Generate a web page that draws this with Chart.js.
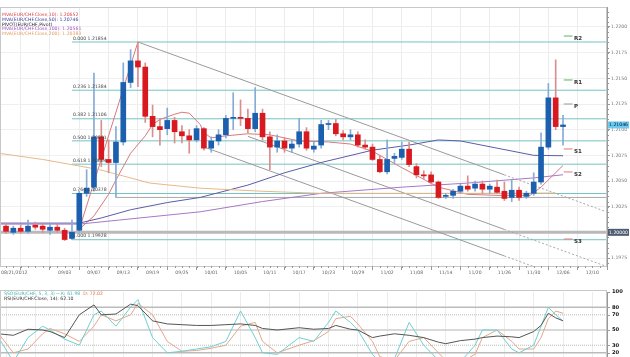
<!DOCTYPE html>
<html><head><meta charset="utf-8">
<script src="https://cdn.jsdelivr.net/npm/chart.js@4/dist/chart.umd.min.js"></script>
<style>
html,body{margin:0;padding:0;background:#fff;width:630px;height:357px;overflow:hidden}
#c1{position:absolute;left:0;top:0}
#c2{position:absolute;left:0;top:285px}
</style></head><body>
<canvas id="c1" width="630" height="285"></canvas>
<canvas id="c2" width="630" height="90"></canvas>
<script>
// ---------- data ----------
const dateTicks = ['08/21/2012','','09/03','09/07','09/13','09/19','09/25','10/01','10/05','10/11','10/17','10/23','10/29','11/02','11/08','11/14','11/20','11/26','11/30','12/06','12/10'];
const open  = [1.2006,1.2000,1.2004,1.2001,1.2007,1.2006,1.2002,1.2005,1.2002,1.1994,1.2002,1.2038,1.2044,1.2093,1.2071,1.2068,1.2088,1.2146,1.2167,1.2161,1.2113,1.2103,1.2101,1.2109,1.2098,1.2094,1.2090,1.2101,1.2082,1.2089,1.2095,1.2111,1.2112,1.2111,1.2101,1.2116,1.2093,1.2083,1.2089,1.2082,1.2086,1.2098,1.2081,1.2085,1.2105,1.2106,1.2096,1.2093,1.2095,1.2085,1.2083,1.2071,1.2059,1.2072,1.2073,1.2081,1.2064,1.2056,1.2056,1.2049,1.2035,1.2036,1.2040,1.2045,1.2043,1.2047,1.2042,1.2044,1.2040,1.2034,1.2041,1.2035,1.2038,1.2049,1.2083,1.2131,1.2103];
const high  = [1.2009,1.2006,1.2007,1.2012,1.2010,1.2009,1.2008,1.2008,1.2004,1.2012,1.2040,1.2061,1.2155,1.2109,1.2090,1.2103,1.2165,1.2178,1.21854,1.2165,1.2124,1.2111,1.2121,1.2112,1.2104,1.2100,1.2104,1.2102,1.2093,1.2100,1.2114,1.2136,1.2129,1.2120,1.2141,1.2120,1.2098,1.2095,1.2092,1.2090,1.2111,1.2102,1.2088,1.2109,1.2109,1.2110,1.2099,1.2100,1.2098,1.2090,1.2086,1.2075,1.2090,1.2077,1.2088,1.2088,1.2067,1.2060,1.2059,1.2050,1.2038,1.2042,1.2047,1.2055,1.2050,1.2050,1.2047,1.2051,1.2049,1.2051,1.2044,1.2040,1.2058,1.2097,1.2145,1.2168,1.2114];
const low   = [1.1999,1.1998,1.1999,1.1999,1.2003,1.2000,1.1998,1.2000,1.1992,1.19928,1.2000,1.2035,1.2040,1.2064,1.2058,1.2034,1.2085,1.2141,1.2142,1.2107,1.2093,1.2085,1.2095,1.2087,1.2087,1.2077,1.2088,1.2080,1.2078,1.2085,1.2092,1.2100,1.2104,1.2097,1.2098,1.2090,1.2061,1.2078,1.2078,1.2078,1.2083,1.2080,1.2078,1.2082,1.2100,1.2094,1.2090,1.2090,1.2083,1.2081,1.2070,1.2058,1.2057,1.2068,1.2071,1.2064,1.2053,1.2052,1.2047,1.2033,1.2033,1.2033,1.2038,1.2040,1.2040,1.2038,1.2038,1.2038,1.2031,1.2030,1.2031,1.2033,1.2036,1.2047,1.2081,1.2100,1.2085];
const close = [1.2001,1.2004,1.2001,1.2006,1.2005,1.2003,1.2005,1.2002,1.1993,1.2000,1.2038,1.2043,1.2093,1.2071,1.2068,1.2088,1.2146,1.2167,1.2161,1.2113,1.2103,1.2100,1.2109,1.2098,1.2094,1.2090,1.2101,1.2082,1.2089,1.2095,1.2111,1.2112,1.2111,1.2101,1.2116,1.2093,1.2083,1.2089,1.2082,1.2086,1.2098,1.2082,1.2084,1.2105,1.2106,1.2096,1.2093,1.2095,1.2085,1.2083,1.2071,1.2059,1.2071,1.2074,1.2081,1.2066,1.2056,1.2055,1.2049,1.2034,1.2036,1.2040,1.2045,1.2042,1.2047,1.2042,1.2045,1.2039,1.2033,1.2041,1.2034,1.2038,1.2049,1.2083,1.2131,1.2103,1.21046];

// moving averages read at sample candles
const ma10Idx  = [10,12,14,15,17,19,20,21,23,24,25,26.5,27,28,30,33,36,40,44,47,50,54,59,63,67,71.5,73,76];
const ma10Val  = [1.2003,1.2016,1.2037,1.2051,1.2077,1.2094,1.2105,1.2110,1.2115,1.2117,1.2116,1.2105,1.2097,1.2092,1.2094,1.2096,1.2095,1.2089,1.2088,1.2086,1.2079,1.2063,1.2044,1.2037,1.2036,1.2036,1.2044,1.20652];
const ma50Idx  = [-1,10,13,17,22,26.5,33,38,43,50,55,59,62,67,72,76];
const ma50Val  = [1.2009,1.2009,1.2014,1.2022,1.2029,1.2034,1.2046,1.2058,1.2068,1.2080,1.2085,1.2090,1.2089,1.2082,1.2075,1.20746];
const ma100Idx = [-1,10,15.5,26.5,35,43,54,63,72,76];
const ma100Val = [1.2008,1.2008,1.2012,1.2020,1.2030,1.2038,1.2044,1.2048,1.2053,1.20561];
const ma200Idx = [-1,5,12.8,19.6,26.5,35,43,55,65,75];
const ma200Val = [1.2077,1.2071,1.2061,1.2048,1.2043,1.2040,1.2038,1.2038,1.2038,1.20383];

const fibRatio = ['0.000','0.236','0.382','0.500','0.618','0.764','1.000'];
const fibValue = [1.21854,1.21384,1.21106,1.20891,1.20664,1.20378,1.19928];
const pivotName  = ['R2','R1','P','S1','S2','S3'];
const pivotValue = [1.21912,1.21484,1.21250,1.20812,1.20588,1.19935];
const yTicks = [1.1975,1.2000,1.2025,1.2050,1.2075,1.2100,1.2125,1.2150,1.2175,1.2200];

// trend channel end points [k, value]
const chanUpper = [[18,1.21854],[68,1.20560],[82,1.20198]];
const chanMid   = [[33,1.20935],[68,1.20028],[82,1.19666]];
const chanLower = [[27.4,1.20821],[68,1.19770],[82,1.19408]];

// oscillators (sampled at candles)
const oscIdx = [-1,1,3,5,6,8,10,12,13,15,17,18,20,22,24,26,28,30,32,34,35,37,40,42,44,45,47,48,50,51,53,55,57,59,60,62,64,65,67,69,70,72,73,74,75,76];
const rsiVal = [45,43,51,50,48,40,70,83,70,71,84,82,62,58,57,56,56,57,58,56,52,50,53,51,52,56,51,50,40,42,45,43,40,34,32,36,38,40,42,41,40,48,56,72,66,62.1];
const stochK = [40,8,40,55,50,38,30,70,75,55,80,90,40,20,22,25,28,35,75,40,20,18,40,35,60,75,60,50,18,8,12,60,30,10,5,8,30,50,50,25,20,30,55,80,70,61.98];
const stochD = [45,20,25,45,52,45,35,55,70,62,70,85,70,35,22,23,26,30,55,60,35,20,30,36,48,65,68,58,35,15,10,35,40,20,10,7,18,40,50,35,25,25,40,65,75,72.02];
const oscLevels = [0,20,30,50,70,80,100];

// ---------- helpers ----------
const FONT = '"DejaVu Sans"';
const pts = (xs, ys) => xs.map((x,i)=>({x:x, y:ys[i]}));
const seg = (p, a, b) => [{x:p[a][0],y:p[a][1]},{x:p[b][0],y:p[b][1]}];
const hline = (x0,x1,v) => [{x:x0,y:v},{x:x1,y:v}];
const XMIN = -0.82, XMAX = 82;
const upC='#1b5fae', dnC='#d8191f', upW='#86abd6', dnW='#dc8d8d';
const isUp = i => close[i] >= open[i];

const lineDs = (data, color, w, extra) => Object.assign({type:'line', data, borderColor:color, borderWidth:w, pointRadius:0, fill:false, tension:0, order:5}, extra||{});

const datasets = [];
datasets.push({type:'bar', data: open.map((o,i)=>({x:i,y:[o,close[i]]})), backgroundColor: open.map((o,i)=>isUp(i)?upC:dnC), barThickness:5, minBarLength:1, grouped:false, order:1});
datasets.push({type:'bar', data: low.map((l,i)=>({x:i,y:[l,high[i]]})), backgroundColor: low.map((l,i)=>isUp(i)?upW:dnW), barThickness:1, grouped:false, order:2});
datasets.push(lineDs(hline(XMIN,XMAX,1.2000), '#b9b9b9', 3, {order:9}));
datasets.push(lineDs(hline(15,XMAX,1.2034), '#a9a9a9', 1, {order:8}));
fibValue.forEach(v => datasets.push(lineDs(hline(9,XMAX,v), '#74c3c3', 1, {order:8})));
datasets.push(lineDs(pts(ma200Idx,ma200Val), '#e8b888', 1));
datasets.push(lineDs(pts(ma100Idx,ma100Val), '#a678c8', 1));
datasets.push(lineDs(pts(ma50Idx,ma50Val), '#5c5ca8', 1));
datasets.push(lineDs(pts(ma10Idx,ma10Val), '#d9787a', 1));
datasets.push(lineDs([{x:10,y:1.2003},{x:18,y:1.21854}], '#d9787a', 1));
[chanUpper, chanMid, chanLower].forEach(c => {
  datasets.push(lineDs(seg(c,0,1), '#9a9a9a', 1));
  datasets.push(lineDs(seg(c,1,2), '#a8a8a8', 1, {borderDash:[2,2]}));
});
pivotValue.forEach((v,i)=> datasets.push(lineDs(hline(76.1,77.3,v), pivotName[i][0]==='R'?'#58b858':(pivotName[i]==='P'?'#999':'#e07a7a'), 1, {order:3})));

const txt = (ctx, s, x, y, color, size, align, bold) => {
  ctx.save(); ctx.font = (bold?'bold ':'') + size + 'px ' + FONT; ctx.fillStyle = color;
  ctx.textAlign = align||'left'; ctx.textBaseline='middle'; ctx.fillText(s, x, y); ctx.restore();
};

const mainPlugin = {
  id:'mainDeco',
  afterDraw(chart){
    const ctx = chart.ctx, xs = chart.scales.x, ys = chart.scales.y, a = chart.chartArea;
    ctx.save(); ctx.strokeStyle='#c8c8c8'; ctx.lineWidth=1; ctx.strokeRect(a.left+0.5,a.top+0.5,a.right-a.left-1,a.bottom-a.top); ctx.restore();
    ctx.save(); ctx.strokeStyle='#999'; ctx.lineWidth=1; ctx.beginPath();
    for(let k=0;k<=XMAX;k++){ const px=Math.round(xs.getPixelForValue(k))+0.5; ctx.moveTo(px,a.bottom); ctx.lineTo(px,a.bottom+2); }
    for(let v=1.1970; v<=1.2220; v+=0.0005){ const py=ys.getPixelForValue(v); if(py<a.top||py>a.bottom) continue; const y=Math.round(py)+0.5; ctx.moveTo(a.right,y); ctx.lineTo(a.right+2,y); }
    ctx.stroke(); ctx.restore();
    fibValue.forEach((v,i)=> txt(ctx, fibRatio[i]+' '+v.toFixed(5), xs.getPixelForValue(9)+1, ys.getPixelForValue(v)-3.5, '#444', 4.6));
    pivotValue.forEach((v,i)=> txt(ctx, pivotName[i], xs.getPixelForValue(77.5), ys.getPixelForValue(v)+3, '#333', 5.5, 'left', true));
    const leg = [['MVA(EUR/CHF.Close,10): 1.20652','#d84848'],['MVA(EUR/CHF.Close,50): 1.20746','#3a3a9a'],['PIVOT(EUR/CHF,Pivot)','#222'],['MVA(EUR/CHF.Close,100): 1.20561','#a050c8'],['MVA(EUR/CHF.Close,200): 1.20383','#e0a060']];
    leg.forEach((l,i)=> txt(ctx, l[0], 2, 14.5+i*4.9, l[1], 4.6));
    dateTicks.forEach((d,j)=>{ if(!d) return; const px = xs.getPixelForValue(j*4);
      txt(ctx, d, j===0?1:px, a.bottom+7, '#666', 4.6, j===0?'left':'center'); });
    const box = (v, s, bg, fg) => { const y = ys.getPixelForValue(v); ctx.save(); ctx.fillStyle=bg; ctx.fillRect(a.right+1, y-3.5, 21, 7); ctx.restore(); txt(ctx, s, a.right+2, y, fg, 4.6); };
    box(1.21046,'1.21046','#6ccbf0','#113');
    box(1.2000,'1.20000','#4f5b72','#fff');
  }
};

new Chart(document.getElementById('c1'), {
  type:'bar',
  data:{datasets},
  options:{
    responsive:false, animation:false, devicePixelRatio:1,
    layout:{padding:{top:7,left:0,right:0,bottom:0}},
    plugins:{legend:{display:false}, tooltip:{enabled:false}},
    scales:{
      x:{type:'linear', min:XMIN, max:XMAX, offset:false,
         afterBuildTicks: s => { s.ticks = dateTicks.map((d,j)=>({value:j*4})); },
         afterFit: s => { s.height = 19; },
         grid:{color:'#ececec', drawTicks:true, tickLength:4, tickColor:'#999'},
         border:{color:'#999'},
         ticks:{display:false}},
      y:{type:'linear', position:'right', min:1.196721, max:1.221948,
         afterBuildTicks: s => { s.ticks = yTicks.map(v=>({value:v})); },
         afterFit: s => { s.width = 23; },
         grid:{color:'#efefef', tickLength:3, tickColor:'#999'},
         border:{color:'#999'},
         ticks:{autoSkip:false, font:{size:4.6, family:'DejaVu Sans'}, color:'#777', padding:1, callback: v => v.toFixed(4)}}
    }
  },
  plugins:[mainPlugin]
});

// ---------- oscillator panel ----------
const oscPlugin = {
  id:'oscDeco',
  afterDraw(chart){
    const ctx = chart.ctx, a = chart.chartArea, ys = chart.scales.y;
    ctx.save(); ctx.strokeStyle='#c8c8c8'; ctx.strokeRect(a.left+0.5,a.top-1.5,a.right-a.left-1,a.bottom-a.top+2); ctx.restore();
    ctx.save(); ctx.font='4.6px ' + FONT; ctx.textBaseline='middle';
    let s1='SSO(EUR/CHF, 5, 3, 3) -- K: 61.98  ', x=4;
    ctx.fillStyle='#3cb8b0'; ctx.fillText(s1, x, a.top+1.5); x += ctx.measureText(s1).width;
    ctx.fillStyle='#e07040'; ctx.fillText('D: 72.02', x, a.top+1.5);
    ctx.fillStyle='#333'; ctx.fillText('RSI(EUR/CHF.Close, 14): 62.10', 4, a.top+6.5);
    ctx.restore();
    ctx.save(); ctx.strokeStyle='#999'; ctx.beginPath();
    oscLevels.forEach(v => { const y = Math.round(ys.getPixelForValue(v))+0.5; ctx.moveTo(a.right, y); ctx.lineTo(a.right+3, y); });
    ctx.stroke(); ctx.restore();
    oscLevels.forEach(v => { const y = Math.max(ys.getPixelForValue(v), 4); txt(ctx, String(v), a.right+5, y, '#111', 5.2, 'left', true); });
  }
};
new Chart(document.getElementById('c2'), {
  type:'line',
  data:{datasets:[
    lineDs(pts(oscIdx,stochK), '#6fcfd0', 1, {order:2}),
    lineDs(pts(oscIdx,stochD), '#e5a68a', 1, {order:3}),
    lineDs(pts(oscIdx,rsiVal), '#555', 1, {order:1}),
    lineDs(hline(XMIN,XMAX,80), '#bbb', 1.5, {order:9}),
    lineDs(hline(XMIN,XMAX,20), '#bbb', 1.5, {order:9}),
    lineDs(hline(XMIN,XMAX,50), '#ccc', 1.5, {order:9}),
    lineDs(hline(XMIN,XMAX,70), '#bbb', 1, {order:9, borderDash:[1,1]}),
    lineDs(hline(XMIN,XMAX,30), '#bbb', 1, {order:9, borderDash:[1,1]})
  ]},
  options:{
    responsive:false, animation:false, devicePixelRatio:1,
    layout:{padding:{top:7,left:0,right:0,bottom:7}},
    plugins:{legend:{display:false}, tooltip:{enabled:false}},
    scales:{
      x:{type:'linear', min:XMIN, max:XMAX, display:true,
         afterBuildTicks: s => { s.ticks = dateTicks.map((d,j)=>({value:j*4})); },
         afterFit: s => { s.height = 0; },
         grid:{color:'#ececec', drawTicks:false}, border:{display:false}, ticks:{display:false}},
      y:{type:'linear', position:'right', min:0, max:100,
         afterBuildTicks: s => { s.ticks = oscLevels.map(v=>({value:v})); },
         afterFit: s => { s.width = 23; },
         grid:{display:false},
         border:{color:'#999'},
         ticks:{display:false}}
    }
  },
  plugins:[oscPlugin]
});
</script>
</body></html>
